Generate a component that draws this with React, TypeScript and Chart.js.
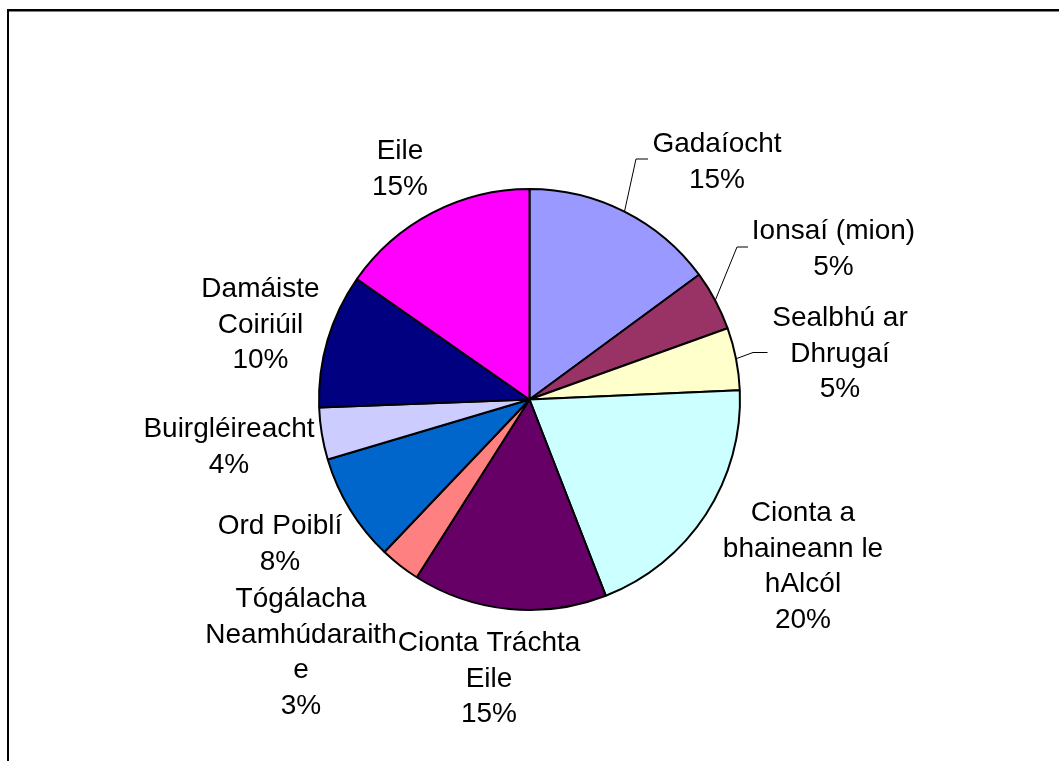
import React, { useEffect, useRef } from "react";
import { Chart, registerables } from "chart.js";

Chart.register(...registerables);

// ---- data ----
const categories = [
  "Gadaíocht",
  "Ionsaí (mion)",
  "Sealbhú ar Dhrugaí",
  "Cionta a bhaineann le hAlcól",
  "Cionta Tráchta Eile",
  "Tógálacha Neamhúdaraithe",
  "Ord Poiblí",
  "Buirgléireacht",
  "Damáiste Coiriúil",
  "Eile",
];
const labelLines = [
  ["Gadaíocht"],
  ["Ionsaí (mion)"],
  ["Sealbhú ar", "Dhrugaí"],
  ["Cionta a", "bhaineann le", "hAlcól"],
  ["Cionta Tráchta", "Eile"],
  ["Tógálacha", "Neamhúdaraith", "e"],
  ["Ord Poiblí"],
  ["Buirgléireacht"],
  ["Damáiste", "Coiriúil"],
  ["Eile"],
];
const shares = [14.9, 4.6, 4.8, 19.8, 14.9, 3.1, 8.3, 4.0, 10.3, 15.3];
const colors = [
  "#9999FF",
  "#993366",
  "#FFFFCC",
  "#CCFFFF",
  "#660066",
  "#FF8080",
  "#0066CC",
  "#CCCCFF",
  "#000080",
  "#FF00FF",
];

// ---- label layout (offsets from pie centre) ----
type LabelPos = { dx: number; dy: number; elbow?: [number, number]; end?: [number, number] };
const labelLayout: LabelPos[] = [
  { dx: 187.5, dy: -247.5, elbow: [106.5, -240.5], end: [118.5, -240.5] },
  { dx: 304, dy: -160.5, elbow: [207.5, -152.5], end: [218.5, -152.5] },
  { dx: 310.5, dy: -73.5, elbow: [223.5, -47], end: [238, -47] },
  { dx: 273.5, dy: 121.5 },
  { dx: -40.5, dy: 251.5 },
  { dx: -228.5, dy: 207.5 },
  { dx: -249.5, dy: 134.5 },
  { dx: -300.5, dy: 37.5 },
  { dx: -269, dy: -102.5 },
  { dx: -129.5, dy: -240.5 },
];

const W = 1059;
const H = 761;
const FONT = '28px "Liberation Sans", Arial, sans-serif';
const LINE_H = 35.5;

const framePlugin = {
  id: "frame",
  beforeDraw(chart: any) {
    const ctx = chart.ctx;
    ctx.save();
    ctx.fillStyle = "#ffffff";
    ctx.fillRect(0, 0, W, H);
    ctx.fillStyle = "#000000";
    ctx.fillRect(7, 9, W - 7, 2);
    ctx.fillRect(7, 9, 2, H - 9);
    ctx.fillStyle = "#808080";
    ctx.fillRect(9, 11, W - 9, 1);
    ctx.restore();
  },
};

const labelPlugin = {
  id: "pieLabels",
  afterDraw(chart: any) {
    const ctx = chart.ctx;
    const meta = chart.getDatasetMeta(0);
    const data = chart.data.datasets[0].data as number[];
    const total = data.reduce((a, b) => a + b, 0);
    ctx.save();
    ctx.font = FONT;
    ctx.fillStyle = "#000000";
    ctx.strokeStyle = "#000000";
    ctx.lineWidth = 1;
    ctx.textAlign = "center";
    ctx.textBaseline = "alphabetic";
    meta.data.forEach((arc: any, i: number) => {
      const p = arc.getProps(["x", "y", "startAngle", "endAngle", "outerRadius"], true);
      const cx = p.x;
      const cy = p.y;
      const lay = labelLayout[i];
      const pct = Math.round((data[i] / total) * 100) + "%";
      const lines = [...labelLines[i], pct];
      lines.forEach((t, k) => {
        ctx.fillText(t, cx + lay.dx, cy + lay.dy + k * LINE_H);
      });
      if (lay.elbow && lay.end) {
        const mid = (p.startAngle + p.endAngle) / 2;
        const sx = cx + Math.cos(mid) * p.outerRadius;
        const sy = cy + Math.sin(mid) * p.outerRadius;
        ctx.beginPath();
        ctx.moveTo(sx, sy);
        ctx.lineTo(cx + lay.elbow[0], cy + lay.elbow[1]);
        ctx.lineTo(cx + lay.end[0], cy + lay.end[1]);
        ctx.stroke();
      }
    });
    ctx.restore();
  },
};

export default function App() {
  const ref = useRef<HTMLCanvasElement | null>(null);
  useEffect(() => {
    if (!ref.current) return;
    const chart = new Chart(ref.current, {
      type: "pie",
      data: {
        labels: categories,
        datasets: [
          {
            data: shares,
            backgroundColor: colors,
            borderColor: "#000000",
            borderWidth: 2,
            borderAlign: "center",
          },
        ],
      },
      options: {
        animation: false,
        responsive: false,
        devicePixelRatio: 1,
        layout: { padding: { left: 318, right: 318, top: 188, bottom: 150 } },
        plugins: {
          legend: { display: false },
          tooltip: { enabled: false },
          title: { display: false },
        },
      },
      plugins: [framePlugin, labelPlugin],
    });
    return () => chart.destroy();
  }, []);
  return (
    <canvas
      ref={ref}
      width={W}
      height={H}
      style={{ position: "absolute", left: 0, top: 0, width: W, height: H, display: "block" }}
    />
  );
}
